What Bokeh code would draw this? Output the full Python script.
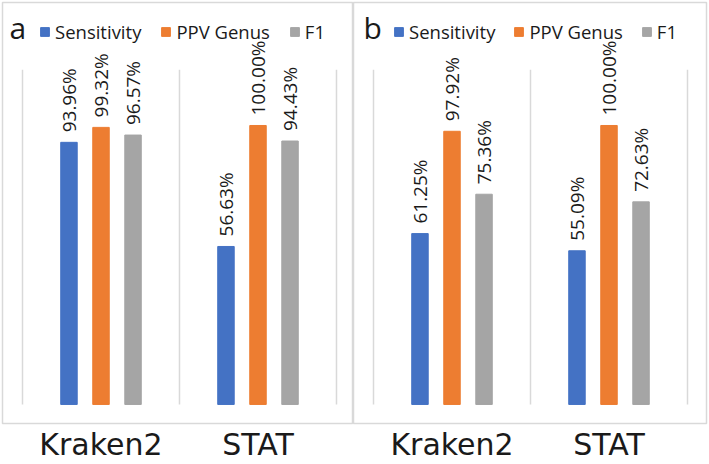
from bokeh.plotting import figure
from bokeh.models import (ColumnDataSource, Range1d, FixedTicker, LabelSet,
                          Legend, LegendItem, Label)
from bokeh.transform import dodge
from bokeh.layouts import row
from bokeh.core.properties import value
from bokeh.embed import file_html
from bokeh.resources import INLINE

# ---- data ----
methods = ["Kraken2", "STAT"]
series = ["Sensitivity", "PPV Genus", "F1"]
a_sensitivity = [93.96, 56.63]
a_ppv_genus = [99.32, 100.00]
a_f1 = [96.57, 94.43]
b_sensitivity = [61.25, 55.09]
b_ppv_genus = [97.92, 100.00]
b_f1 = [75.36, 72.63]

colors = ["#4472C4", "#ED7D31", "#A5A5A5"]
offsets = [-0.204, 0.0, 0.204]
fields = ["sens", "ppv", "f1"]

FH = 420            # expected frame height (px)
PX_PER_PCT = 2.783  # vertical scale
BASE = 19           # baseline above frame bottom (px)


def make_panel(letter, sens, ppv, f1, width, border_left, border_right,
               x_end, letter_x, legend_x, legend_spacing):
    xs = [i + 1 for i in range(len(methods))]
    data = dict(x=xs, sens=sens, ppv=ppv, f1=f1)
    for f, vals in zip(fields, [sens, ppv, f1]):
        data[f + "_lbl"] = ["%.2f%%" % v for v in vals]
    src = ColumnDataSource(data)

    p = figure(width=width, height=464,
               x_range=Range1d(0.3726, x_end),
               y_range=Range1d(-BASE / PX_PER_PCT, (FH - BASE) / PX_PER_PCT),
               output_backend="svg", toolbar_location=None,
               min_border_left=border_left, min_border_right=border_right,
               min_border_top=2, min_border_bottom=0,
               x_axis_location="below", y_axis_location=None)
    p.background_fill_color = "white"
    p.border_fill_color = "white"
    p.outline_line_color = "#d9d9d9"
    p.outline_line_width = 1.5
    p.grid.visible = False

    ax = p.xaxis[0]
    ax.ticker = FixedTicker(ticks=xs)
    ax.major_label_overrides = {x: m for x, m in zip(xs, methods)}
    ax.axis_line_color = None
    ax.major_tick_line_color = None
    ax.minor_tick_line_color = None
    ax.major_tick_out = 0
    ax.major_tick_in = 0
    ax.major_label_standoff = 3
    ax.major_label_text_font = "DejaVu Sans"
    ax.major_label_text_font_size = "30px"
    ax.major_label_text_color = "#1a1a1a"

    bounds = [i + 0.5 for i in range(len(methods) + 1)]
    p.segment(x0=bounds, y0=[0] * len(bounds), x1=bounds, y1=[120] * len(bounds),
              line_color="#d9d9d9", line_width=1.5)

    items = []
    for f, off, c, name in zip(fields, offsets, colors, series):
        r = p.vbar(x=dodge("x", off), top=f, width=0.105, source=src,
                   fill_color=c, line_color=c)
        items.append(LegendItem(label=name, renderers=[r]))
        lbl = LabelSet(x=dodge("x", off), y=f, text=f + "_lbl", source=src,
                       angle=90, angle_units="deg", text_align="left",
                       text_baseline="middle", y_offset=10,
                       text_font=value("Open Sans"), text_font_size="19px",
                       text_color="#1a1a1a")
        p.add_layout(lbl)

    leg = Legend(items=items, orientation="horizontal", location=(legend_x, FH - 41),
                 glyph_width=11, glyph_height=11, label_standoff=5,
                 spacing=legend_spacing,
                 padding=0, margin=0, border_line_color=None,
                 background_fill_alpha=0, label_text_font="Open Sans",
                 label_text_font_size="18.5px", label_text_color="#1a1a1a")
    p.add_layout(leg)

    p.add_layout(Label(x=letter_x, y=FH - 24, x_units="screen", y_units="screen",
                       text=letter, text_font="Open Sans", text_font_size="30px",
                       text_baseline="alphabetic", text_color="#1a1a1a"))
    return p


pa = make_panel("a", a_sensitivity, a_ppv_genus, a_f1, width=353,
                border_left=2, border_right=0, x_end=2.6083,
                letter_x=7, legend_x=37, legend_spacing=19)
pb = make_panel("b", b_sensitivity, b_ppv_genus, b_f1, width=356,
                border_left=0, border_right=3, x_end=2.621,
                letter_x=10, legend_x=40, legend_spacing=18)
layout = row(pa, pb, spacing=0)

open("out.html", "w").write(file_html(layout, INLINE))
